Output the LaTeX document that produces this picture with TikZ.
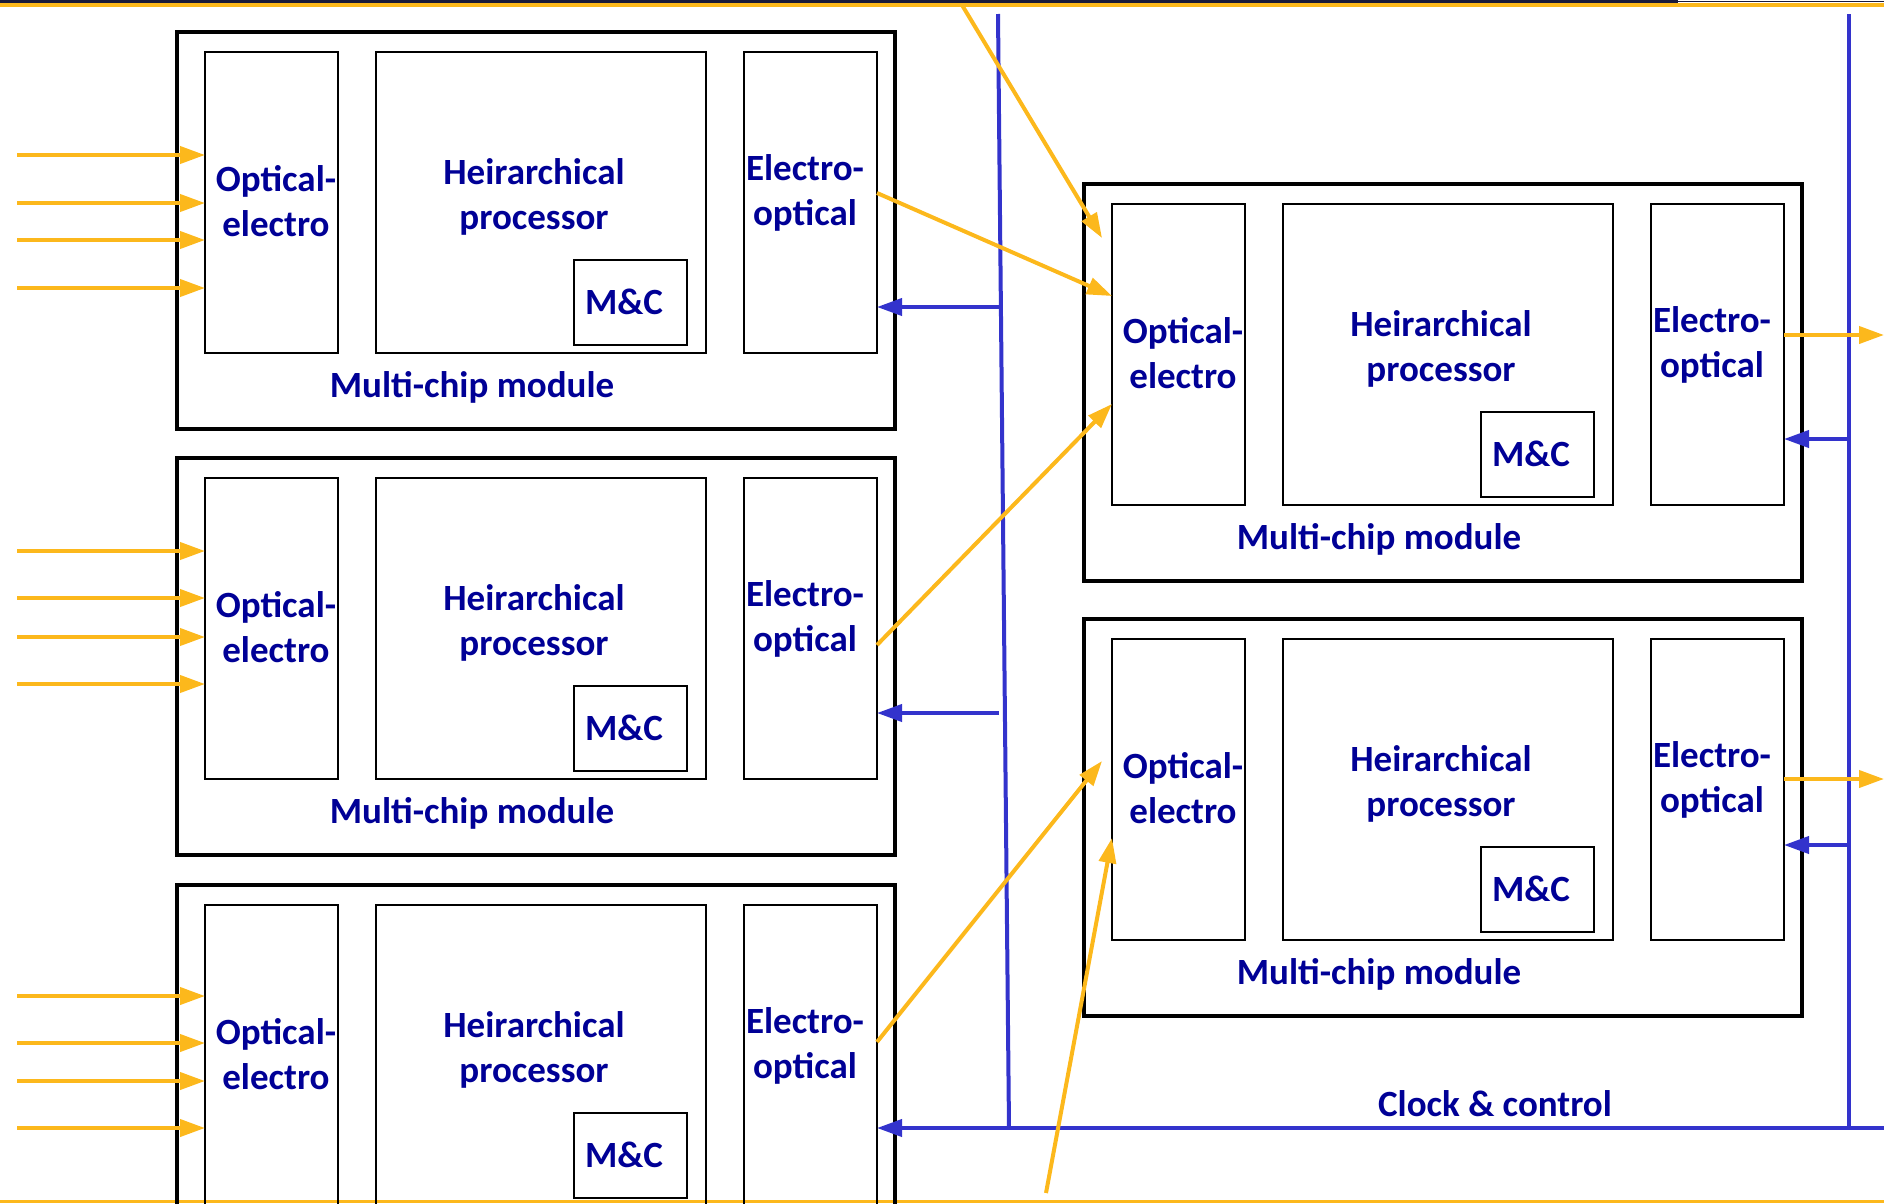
\documentclass[tikz,border=0pt]{standalone}
\usepackage{fontspec}
\setmainfont{Carlito}
\usetikzlibrary{calc,arrows.meta}
\definecolor{amber}{RGB}{252,184,28}
\definecolor{busblue}{RGB}{51,51,204}
\definecolor{inknavy}{RGB}{0,0,150}
\definecolor{bandnavy}{RGB}{26,26,58}
\tikzset{
  outerbox/.style={draw=black, line width=4.5pt, anchor=north west, inner sep=0pt, outer sep=0pt},
  innerbox/.style={draw=black, line width=2.2pt, anchor=north west, inner sep=0pt, outer sep=0pt},
  lbl/.style={text=inknavy, font=\fontsize{37}{45}\selectfont\bfseries, align=center, inner sep=0pt},
  opt/.style={draw=amber, line width=4pt, -{Triangle[length=25pt,width=17pt]}},
  ctl/.style={draw=busblue, line width=4pt, -{Triangle[length=25pt,width=17pt]}},
  bus/.style={draw=busblue, line width=4pt},
}
% one multi-chip module: #1 name suffix, (#2,#3) top-left corner
\newcommand\mcmodule[3]{%
  \node[outerbox, minimum width=718pt, minimum height=397pt] (mcm#1) at (#2,#3) {};
  \node[innerbox, minimum width=133pt, minimum height=301pt] (oe#1) at ($(mcm#1.north west)+(28,20)$) {};
  \node[innerbox, minimum width=330pt, minimum height=301pt] (hp#1) at ($(mcm#1.north west)+(199,20)$) {};
  \node[innerbox, minimum width=133pt, minimum height=301pt] (eo#1) at ($(mcm#1.north west)+(567,20)$) {};
  \node[innerbox, minimum width=113pt, minimum height=85pt] (mc#1) at ($(mcm#1.north west)+(397,228)$) {};
  \node[lbl] (mct#1) at ($(mcm#1.north west)+(447,270)$) {M\&C};
  \node[lbl] (oet#1) at ($(mcm#1.north west)+(99,169)$) {Optical-\\electro};
  \node[lbl] (hpt#1) at ($(mcm#1.north west)+(357,165)$) {Heirarchical\\processor};
  \node[lbl] (eot#1) at ($(mcm#1.north west)+(628,161)$) {Electro-\\optical};
}
% caption under the inner blocks of a module
\newcommand\mcmcaption[1]{%
  \node[lbl] (mcl#1) at ($(mcm#1.north west)+(295,355)$) {Multi-chip module};
}
\begin{document}
\begin{tikzpicture}[x=1pt, y=-1pt]
\useasboundingbox (0,0) rectangle (1884,1203);
\clip (0,0) rectangle (1884,1203);

% frame bands
\fill[bandnavy] (0,0) rectangle (1678,2.5);
\draw[bandnavy, line width=0.6pt] (1678,1.2) -- (1884,1.2);
\fill[amber] (0,2.5) rectangle (1884,6.5);
\fill[amber] (0,1199.5) rectangle (1884,1203);

% modules
\mcmodule{L1}{177}{32}
\mcmodule{L2}{177}{458}
\mcmodule{L3}{177}{885}
\mcmodule{R1}{1084}{184}
\mcmodule{R2}{1084}{619}
\mcmcaption{L1}
\mcmcaption{L2}
\mcmcaption{R1}
\mcmcaption{R2}

% optical inputs
\foreach \m/\ya/\yb/\yc/\yd in {L1/155/203/240/288, L2/551/598/637/684, L3/996/1043/1081/1128}{
  \foreach \k/\yy in {a/\ya, b/\yb, c/\yc, d/\yd}{
    \coordinate (in\m\k) at (17,\yy);
    \draw[opt] (in\m\k) -- (in\m\k -| oe\m.west);
  }
}

% clock & control buses
\coordinate (busAtop) at (998,14);
\coordinate (busAbot) at (1009,1128);
\coordinate (busBtop) at (1849,14);
\coordinate (busBbot) at (1849,1128);
\coordinate (busEnd) at (1884,1128);
\draw[bus] (busAtop) -- (busAbot);
\draw[bus] (busBtop) -- (busBbot);
\draw[ctl] (busEnd) -- (busEnd -| eoL3.east);
\coordinate (tapL1) at (999,307);
\coordinate (tapL2) at (999,713);
\coordinate (tapR1) at (1849,439);
\coordinate (tapR2) at (1849,845);
\draw[ctl] (tapL1) -- (tapL1 -| eoL1.east);
\draw[ctl] (tapL2) -- (tapL2 -| eoL2.east);
\draw[ctl] (tapR1) -- (tapR1 -| eoR1.east);
\draw[ctl] (tapR2) -- (tapR2 -| eoR2.east);
\node[lbl] (clk) at (1495,1104) {Clock \& control};

% optical links between modules
\coordinate (fromTop) at (962,5);
\coordinate (fromBottom) at (1046,1193);
\draw[opt] (fromTop) -- ([xshift=-10pt,yshift=-34pt]oeR1.north west);
\draw[opt] ([yshift=9.5pt]eoL1.east) -- ([yshift=58.5pt]oeR1.west);
\draw[opt] ([yshift=-16.5pt]eoL2.east) -- ([yshift=-49.5pt]oeR1.west);
\draw[opt] ([yshift=13.5pt]eoL3.east) -- ([xshift=-10pt,yshift=28.5pt]oeR2.west);
\draw[opt] (fromBottom) -- ([yshift=-48.5pt]oeR2.west);

% optical outputs
\coordinate (outR1) at (1884,335);
\coordinate (outR2) at (1884,779);
\draw[opt] (outR1 -| eoR1.east) -- (outR1);
\draw[opt] (outR2 -| eoR2.east) -- (outR2);
\end{tikzpicture}
\end{document}
